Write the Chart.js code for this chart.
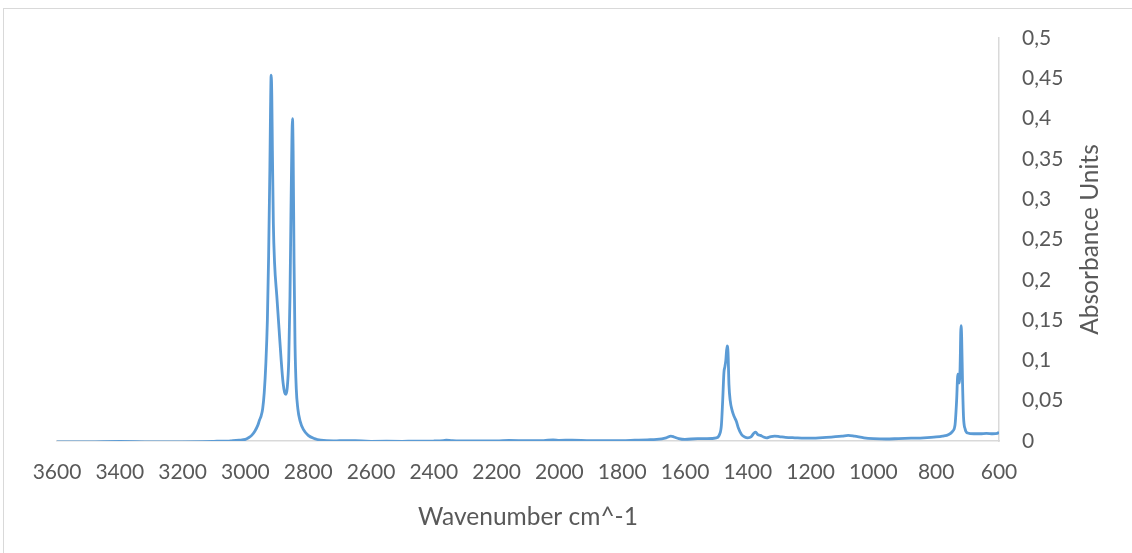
<!DOCTYPE html>
<html>
<head>
<meta charset="utf-8">
<title>FTIR spectrum</title>
<script src="https://cdn.jsdelivr.net/npm/chart.js@4.4.1/dist/chart.umd.min.js"></script>
<style>
  html, body { margin: 0; padding: 0; background: #ffffff; }
  #wrap { width: 1132px; height: 553px; position: relative; }
</style>
</head>
<body>
<div id="wrap"><canvas id="spectrum" width="1132" height="553"></canvas></div>
<script>
// Wavenumber (cm^-1) and absorbance, high to low wavenumber
const wavenumbers = [
  3600, 3500, 3400, 3300, 3200, 3100, 3050, 3040, 3020, 3000,
  2990, 2980, 2970, 2960, 2955, 2950, 2945, 2940, 2935, 2930,
  2926, 2922, 2920, 2918, 2916, 2914, 2911, 2907, 2900, 2893,
  2886, 2880, 2875, 2871, 2867, 2862, 2858, 2855, 2852, 2850,
  2848, 2845, 2842, 2838, 2833, 2826, 2815, 2800, 2780, 2760,
  2720, 2700, 2650, 2600, 2500, 2400, 2370, 2360, 2345, 2320,
  2250, 2200, 2160, 2100, 2050, 2020, 2000, 1960, 1900, 1850,
  1800, 1760, 1720, 1690, 1660, 1645, 1635, 1620, 1600, 1560,
  1530, 1500, 1490, 1484, 1480, 1476, 1473, 1470, 1466, 1463,
  1460, 1456, 1450, 1443, 1436, 1430, 1420, 1410, 1400, 1390,
  1380, 1375, 1368, 1360, 1350, 1340, 1330, 1315, 1300, 1280,
  1250, 1200, 1150, 1100, 1080, 1060, 1030, 1000, 960, 920,
  880, 840, 800, 780, 760, 748, 740, 735, 731, 729,
  727, 724, 721, 719, 716, 713, 708, 700, 680, 660,
  640, 620, 605, 600
];
const absorbance = [
  -0.001, -0.001, -0.0005, -0.001, -0.001, -0.0005, 0, 0.0005, 0.001, 0.002,
  0.004, 0.007, 0.012, 0.020, 0.026, 0.031, 0.040, 0.060, 0.095, 0.15,
  0.23, 0.34, 0.41, 0.454, 0.43, 0.36, 0.27, 0.22, 0.18, 0.14,
  0.10, 0.072, 0.060, 0.058, 0.065, 0.10, 0.18, 0.28, 0.37, 0.40,
  0.36, 0.22, 0.12, 0.065, 0.04, 0.025, 0.014, 0.007, 0.003, 0.001,
  0, 0.0003, 0.0005, -0.0005, -0.0005, 0, 0.0005, 0.001, 0.0005, 0,
  0, 0, 0.0008, 0.0003, 0.0005, 0.0015, 0.0008, 0.001, 0.0005, 0.0005,
  0.0005, 0.001, 0.0015, 0.002, 0.004, 0.006, 0.005, 0.003, 0.002, 0.003,
  0.003, 0.004, 0.008, 0.02, 0.05, 0.085, 0.092, 0.10, 0.118, 0.11,
  0.07, 0.05, 0.038, 0.030, 0.024, 0.016, 0.008, 0.005, 0.004, 0.005,
  0.010, 0.011, 0.008, 0.007, 0.005, 0.004, 0.005, 0.006, 0.0055, 0.0045,
  0.004, 0.0035, 0.0045, 0.006, 0.007, 0.006, 0.004, 0.003, 0.0025, 0.003,
  0.0035, 0.004, 0.005, 0.006, 0.008, 0.012, 0.02, 0.05, 0.083, 0.080,
  0.072, 0.09, 0.143, 0.13, 0.07, 0.03, 0.015, 0.010, 0.009, 0.009,
  0.0095, 0.009, 0.0095, 0.011
];

const xTickLabels = ['3600', '3400', '3200', '3000', '2800', '2600', '2400', '2200',
                     '2000', '1800', '1600', '1400', '1200', '1000', '800', '600'];
const yTickLabels = ['0', '0,05', '0,1', '0,15', '0,2', '0,25', '0,3', '0,35', '0,4', '0,45', '0,5'];

const xTitle = 'Wavenumber cm^-1';
const yTitle = 'Absorbance Units';

const points = wavenumbers.map((w, i) => ({ x: w, y: absorbance[i] }));

const FONT = 'Lato, "Open Sans", sans-serif';
const TEXT = '#595959';
const AXIS = '#d9d9d9';

// Outer frame of the chart and the rotated y-axis title
const decorations = {
  id: 'decorations',
  beforeDraw(chart) {
    const ctx = chart.ctx;
    ctx.save();
    ctx.strokeStyle = AXIS;
    ctx.lineWidth = 1;
    ctx.strokeRect(3.5, 8.5, 1200, 700);
    ctx.restore();
  },
  afterDraw(chart) {
    const ctx = chart.ctx;
    const area = chart.chartArea;
    ctx.save();
    ctx.fillStyle = TEXT;
    ctx.font = '24.5px ' + FONT;
    ctx.textAlign = 'center';
    ctx.textBaseline = 'middle';
    ctx.translate(1090, (area.top + area.bottom) / 2);
    ctx.rotate(-Math.PI / 2);
    ctx.fillText(yTitle, 0, 0);
    ctx.restore();
  }
};

new Chart(document.getElementById('spectrum'), {
  type: 'scatter',
  data: {
    datasets: [{
      data: points,
      showLine: true,
      borderColor: '#5B9BD5',
      backgroundColor: '#5B9BD5',
      borderWidth: 2.8,
      pointRadius: 0,
      pointHoverRadius: 0,
      cubicInterpolationMode: 'monotone'
    }]
  },
  options: {
    responsive: false,
    animation: false,
    events: [],
    layout: { padding: { left: 57, top: 38, right: 0, bottom: 0 } },
    plugins: { legend: { display: false }, tooltip: { enabled: false } },
    scales: {
      x: {
        type: 'linear',
        position: 'bottom',
        reverse: true,
        min: 600,
        max: 3600,
        afterBuildTicks(scale) {
          scale.ticks = xTickLabels.map(t => ({ value: Number(t) }));
        },
        afterFit(scale) { scale.height = 112; },
        grid: { display: false, drawTicks: false },
        border: { display: true, color: AXIS, width: 1.5 },
        ticks: {
          color: TEXT,
          font: { family: FONT, size: 21 },
          padding: 19,
          maxRotation: 0,
          autoSkip: false,
          callback: (v) => String(v)
        },
        title: {
          display: true,
          text: xTitle,
          color: TEXT,
          font: { family: FONT, size: 24.5 },
          padding: { top: 0, bottom: 21 }
        }
      },
      y: {
        type: 'linear',
        position: 'right',
        min: 0,
        max: 0.5,
        afterBuildTicks(scale) {
          scale.ticks = yTickLabels.map((t, i) => ({ value: i * 0.05 }));
        },
        afterFit(scale) { scale.width = 133; },
        grid: { display: false, drawTicks: false },
        border: { display: true, color: AXIS, width: 1.5 },
        ticks: {
          color: TEXT,
          font: { family: FONT, size: 21 },
          padding: 23,
          autoSkip: false,
          callback: (v, i) => yTickLabels[i]
        }
      }
    }
  },
  plugins: [decorations]
});
</script>
</body>
</html>
